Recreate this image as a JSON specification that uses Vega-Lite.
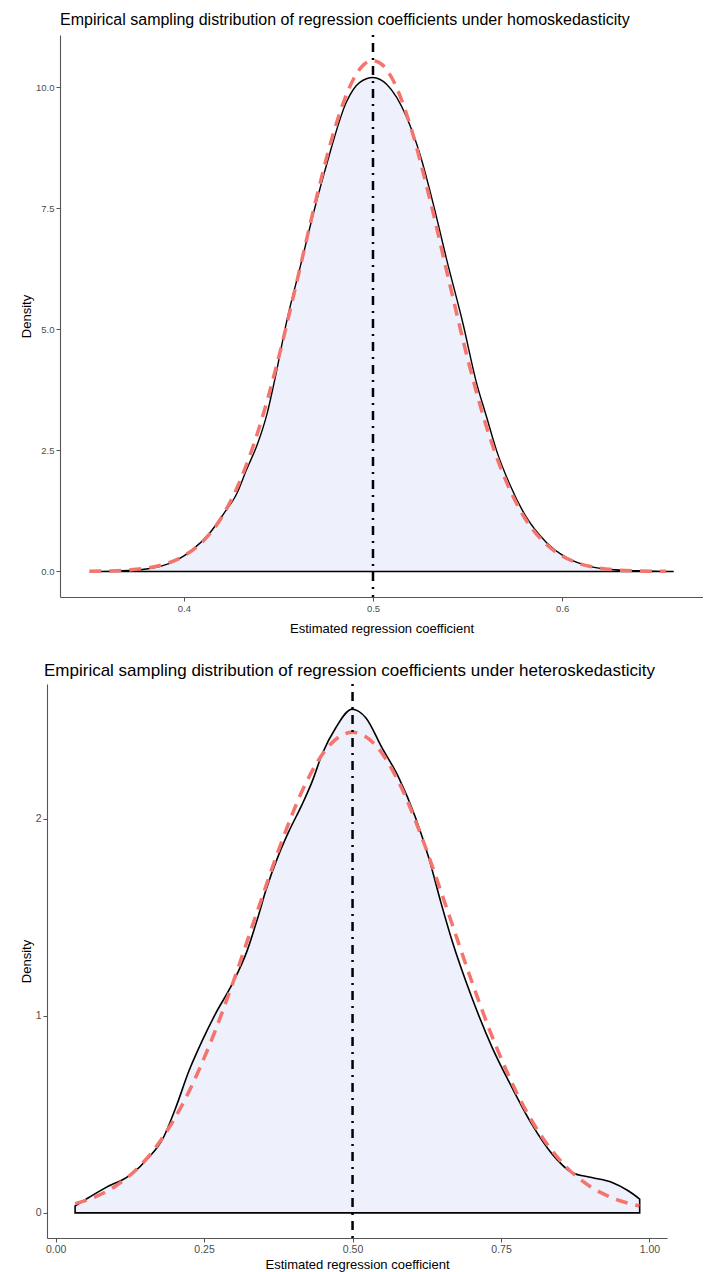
{
  "$schema": "https://vega.github.io/schema/vega-lite/v6.json",
  "background": "white",
  "padding": {"left": 20, "top": 11, "right": 0, "bottom": 0},
  "spacing": 25,
  "config": {
    "view": {"stroke": null},
    "font": "Liberation Sans",
    "axis": {"grid": false, "domainColor": "#555555", "domainWidth": 1.1, "tickColor": "#555555", "tickSize": 4, "labelColor": "#4d4d4d", "labelPadding": 2, "titleColor": "#000000", "titleFontWeight": "normal", "labelFont": "Liberation Sans", "titleFont": "Liberation Sans"},
    "title": {"anchor": "start", "frame": "group", "fontWeight": "normal", "color": "#000000", "font": "Liberation Sans"}
  },
  "datasets": {
    "homo_emp": [
      {"beta": 0.352, "density": 0}, {"beta": 0.365, "density": 0.01}, {"beta": 0.378, "density": 0.04}, {"beta": 0.388, "density": 0.11},
      {"beta": 0.396, "density": 0.23}, {"beta": 0.404, "density": 0.43}, {"beta": 0.414, "density": 0.81}, {"beta": 0.421, "density": 1.19},
      {"beta": 0.428, "density": 1.61}, {"beta": 0.433, "density": 2.09}, {"beta": 0.439, "density": 2.64}, {"beta": 0.444, "density": 3.26},
      {"beta": 0.448, "density": 3.95}, {"beta": 0.4545, "density": 5.19}, {"beta": 0.4615, "density": 6.29}, {"beta": 0.4694, "density": 7.53},
      {"beta": 0.4756, "density": 8.42}, {"beta": 0.486, "density": 9.7}, {"beta": 0.493, "density": 10.1}, {"beta": 0.5, "density": 10.2},
      {"beta": 0.5072, "density": 10.06}, {"beta": 0.5178, "density": 9.38}, {"beta": 0.5248, "density": 8.62}, {"beta": 0.5318, "density": 7.6},
      {"beta": 0.5389, "density": 6.45}, {"beta": 0.5477, "density": 5.1}, {"beta": 0.5547, "density": 3.9}, {"beta": 0.56, "density": 3.2},
      {"beta": 0.5653, "density": 2.5}, {"beta": 0.5723, "density": 1.8}, {"beta": 0.5811, "density": 1.12}, {"beta": 0.5917, "density": 0.6},
      {"beta": 0.6022, "density": 0.29}, {"beta": 0.6163, "density": 0.09}, {"beta": 0.63, "density": 0.03}, {"beta": 0.645, "density": 0.01},
      {"beta": 0.659, "density": 0}
    ],
    "homo_norm": [
      {"beta": 0.35, "density": 0.004}, {"beta": 0.36, "density": 0.011}, {"beta": 0.37, "density": 0.028}, {"beta": 0.38, "density": 0.068},
      {"beta": 0.39, "density": 0.153}, {"beta": 0.40, "density": 0.32}, {"beta": 0.41, "density": 0.62}, {"beta": 0.42, "density": 1.12},
      {"beta": 0.43, "density": 1.90}, {"beta": 0.44, "density": 2.99}, {"beta": 0.45, "density": 4.40}, {"beta": 0.46, "density": 6.03},
      {"beta": 0.47, "density": 7.70}, {"beta": 0.48, "density": 9.17}, {"beta": 0.485, "density": 9.75}, {"beta": 0.49, "density": 10.19},
      {"beta": 0.495, "density": 10.46}, {"beta": 0.50, "density": 10.55}, {"beta": 0.505, "density": 10.46}, {"beta": 0.51, "density": 10.19},
      {"beta": 0.515, "density": 9.75}, {"beta": 0.52, "density": 9.17}, {"beta": 0.53, "density": 7.70}, {"beta": 0.54, "density": 6.03},
      {"beta": 0.55, "density": 4.40}, {"beta": 0.56, "density": 2.99}, {"beta": 0.57, "density": 1.90}, {"beta": 0.58, "density": 1.12},
      {"beta": 0.59, "density": 0.62}, {"beta": 0.60, "density": 0.32}, {"beta": 0.61, "density": 0.153}, {"beta": 0.62, "density": 0.068},
      {"beta": 0.63, "density": 0.028}, {"beta": 0.64, "density": 0.011}, {"beta": 0.655, "density": 0.002}
    ],
    "hetero_emp": [
      {"beta": 0.0328, "density": 0.035}, {"beta": 0.056, "density": 0.078}, {"beta": 0.0843, "density": 0.128}, {"beta": 0.1236, "density": 0.188},
      {"beta": 0.1569, "density": 0.281}, {"beta": 0.1801, "density": 0.374}, {"beta": 0.2024, "density": 0.535}, {"beta": 0.2246, "density": 0.721},
      {"beta": 0.2467, "density": 0.873}, {"beta": 0.2689, "density": 1.009}, {"beta": 0.2972, "density": 1.161}, {"beta": 0.3224, "density": 1.33},
      {"beta": 0.3406, "density": 1.5}, {"beta": 0.3537, "density": 1.634}, {"beta": 0.3759, "density": 1.82}, {"beta": 0.3931, "density": 1.939},
      {"beta": 0.4153, "density": 2.075}, {"beta": 0.4324, "density": 2.193}, {"beta": 0.4486, "density": 2.328}, {"beta": 0.4718, "density": 2.463},
      {"beta": 0.499, "density": 2.557}, {"beta": 0.5223, "density": 2.514}, {"beta": 0.5495, "density": 2.362}, {"beta": 0.5778, "density": 2.21},
      {"beta": 0.606, "density": 2.007}, {"beta": 0.6282, "density": 1.804}, {"beta": 0.6484, "density": 1.58}, {"beta": 0.6676, "density": 1.381},
      {"beta": 0.7009, "density": 1.093}, {"beta": 0.7352, "density": 0.839}, {"beta": 0.7685, "density": 0.636}, {"beta": 0.8018, "density": 0.45},
      {"beta": 0.8362, "density": 0.298}, {"beta": 0.8695, "density": 0.205}, {"beta": 0.9028, "density": 0.179}, {"beta": 0.9371, "density": 0.154},
      {"beta": 0.9643, "density": 0.112}, {"beta": 0.9835, "density": 0.07}
    ],
    "hetero_norm": [
      {"beta": 0.033, "density": 0.047}, {"beta": 0.06, "density": 0.073}, {"beta": 0.10, "density": 0.134}, {"beta": 0.14, "density": 0.232},
      {"beta": 0.18, "density": 0.381}, {"beta": 0.22, "density": 0.588}, {"beta": 0.26, "density": 0.858}, {"beta": 0.30, "density": 1.181},
      {"beta": 0.34, "density": 1.534}, {"beta": 0.38, "density": 1.879}, {"beta": 0.42, "density": 2.173}, {"beta": 0.46, "density": 2.370},
      {"beta": 0.50, "density": 2.44}, {"beta": 0.54, "density": 2.370}, {"beta": 0.58, "density": 2.173}, {"beta": 0.62, "density": 1.879},
      {"beta": 0.66, "density": 1.534}, {"beta": 0.70, "density": 1.181}, {"beta": 0.74, "density": 0.858}, {"beta": 0.78, "density": 0.588},
      {"beta": 0.82, "density": 0.381}, {"beta": 0.86, "density": 0.232}, {"beta": 0.90, "density": 0.134}, {"beta": 0.94, "density": 0.073},
      {"beta": 0.983, "density": 0.035}
    ]
  },
  "vconcat": [
    {
      "title": {"text": "Empirical sampling distribution of regression coefficients under homoskedasticity", "fontSize": 16, "offset": 6},
      "width": 643,
      "height": 562,
      "layer": [
        {
          "data": {"name": "homo_emp"},
          "mark": {"type": "area", "fill": "#EEF0FB", "stroke": "#000000", "strokeWidth": 1.4, "interpolate": "monotone"},
          "encoding": {
            "x": {"field": "beta", "type": "quantitative", "scale": {"domain": [0.3345, 0.6745], "nice": false, "zero": false},
                  "axis": {"values": [0.4, 0.5, 0.6], "format": ".1f", "title": "Estimated regression coefficient", "labelFontSize": 9.5, "titleFontSize": 13, "titlePadding": 10}},
            "y": {"field": "density", "type": "quantitative", "scale": {"domain": [-0.5275, 11.0775], "nice": false, "zero": false},
                  "axis": {"values": [0, 2.5, 5, 7.5, 10], "format": ".1f", "title": "Density", "labelFontSize": 9.5, "titleFontSize": 13, "titlePadding": 2.5}},
            "y2": {"datum": 0}
          }
        },
        {
          "data": {"name": "homo_norm"},
          "mark": {"type": "line", "color": "#F4756E", "strokeWidth": 3.5, "strokeDash": [12, 8], "interpolate": "monotone"},
          "encoding": {
            "x": {"field": "beta", "type": "quantitative"},
            "y": {"field": "density", "type": "quantitative"}
          }
        },
        {
          "data": {"values": [{"beta": 0.5}]},
          "mark": {"type": "rule", "color": "#000000", "strokeWidth": 2.5, "strokeDash": [2, 6, 9, 6]},
          "encoding": {"x": {"field": "beta", "type": "quantitative"}}
        }
      ]
    },
    {
      "title": {"text": "Empirical sampling distribution of regression coefficients under heteroskedasticity", "fontSize": 17, "offset": 3, "dx": -16},
      "width": 607,
      "height": 554,
      "layer": [
        {
          "data": {"name": "hetero_emp"},
          "mark": {"type": "area", "fill": "#EEF0FB", "stroke": "#000000", "strokeWidth": 1.6, "interpolate": "monotone"},
          "encoding": {
            "x": {"field": "beta", "type": "quantitative", "scale": {"domain": [-0.0145, 1.0295], "range": [-13, 607], "nice": false, "zero": false},
                  "axis": {"values": [0, 0.25, 0.5, 0.75, 1], "format": ".2f", "title": "Estimated regression coefficient", "labelFontSize": 10.5, "titleFontSize": 13, "titlePadding": 4}},
            "y": {"field": "density", "type": "quantitative", "scale": {"domain": [-0.1278, 2.685], "nice": false, "zero": false},
                  "axis": {"values": [0, 1, 2], "format": "d", "offset": 13, "title": "Density", "labelFontSize": 10.5, "titleFontSize": 13, "titlePadding": 1.5}},
            "y2": {"datum": 0}
          }
        },
        {
          "data": {"name": "hetero_norm"},
          "mark": {"type": "line", "color": "#F4756E", "strokeWidth": 3.5, "strokeDash": [12, 8], "interpolate": "monotone"},
          "encoding": {
            "x": {"field": "beta", "type": "quantitative"},
            "y": {"field": "density", "type": "quantitative"}
          }
        },
        {
          "data": {"values": [{"beta": 0.5}]},
          "mark": {"type": "rule", "color": "#000000", "strokeWidth": 2.5, "strokeDash": [2, 6, 9, 6]},
          "encoding": {"x": {"field": "beta", "type": "quantitative"}}
        }
      ]
    }
  ]
}
